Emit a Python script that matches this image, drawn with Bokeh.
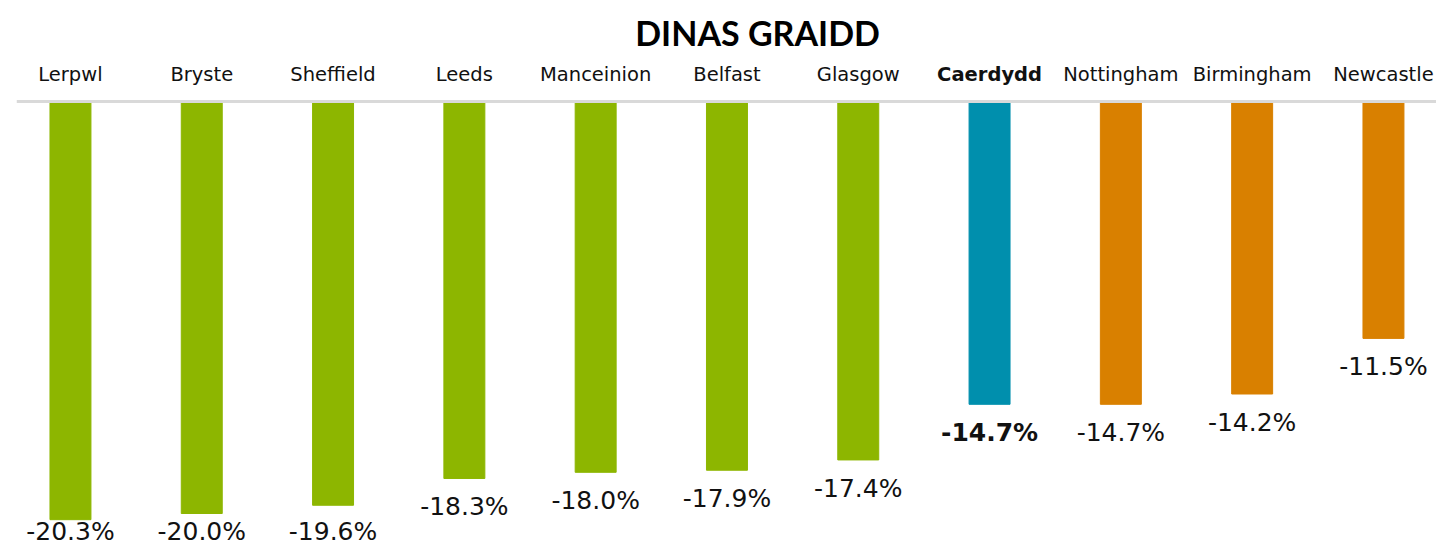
from bokeh.plotting import figure
from bokeh.models import ColumnDataSource, Range1d, Span
from bokeh.core.properties import value
from bokeh.embed import file_html
from bokeh.resources import INLINE

# ---- data ----
cities = ["Lerpwl", "Bryste", "Sheffield", "Leeds", "Manceinion", "Belfast",
          "Glasgow", "Caerdydd", "Nottingham", "Birmingham", "Newcastle"]
changes = [-20.3, -20.0, -19.6, -18.3, -18.0, -17.9, -17.4, -14.7, -14.7, -14.2, -11.5]
groups = ["core", "core", "core", "core", "core", "core", "core",
          "wales", "other", "other", "other"]
title_text = "DINAS GRAIDD"

palette = {"core": "#8DB600", "wales": "#008FAD", "other": "#D98000"}

idx = list(range(len(cities)))
colors = [palette[g] for g in groups]
weights = ["bold" if g == "wales" else "normal" for g in groups]
labels = [f"{v:.1f}%" for v in changes]
# value labels are kept inside the chart area (clamped near the bottom edge)
label_floor = -19.5
label_y = [max(v, label_floor) for v in changes]

src = ColumnDataSource(dict(x=idx, top=[0] * len(idx), bottom=changes, color=colors,
                            city=cities, label=labels, weight=weights, label_y=label_y,
                            cat_y=[1.31] * len(idx)))

W, H = 1436, 547
p = figure(width=W, height=H, output_backend="svg", toolbar_location=None,
           x_range=Range1d(-0.411, 10.404), y_range=Range1d(-21.65, 4.90),
           min_border_left=16, min_border_right=0, min_border_top=0, min_border_bottom=0)
p.axis.visible = False
p.grid.visible = False
p.outline_line_color = None
p.background_fill_color = "white"

p.vbar(x="x", top="top", bottom="bottom", width=0.312, color="color", source=src)

p.add_layout(Span(location=0, dimension="width", line_color="#D9D9D9", line_width=3))

p.text(x="x", y="cat_y", text="city", text_font=value("DejaVu Sans"), text_font_size="19.5px",
       text_font_style="weight", text_align="center", text_baseline="middle",
       text_color="#111111", source=src)

p.text(x="x", y="label_y", text="label", text_font=value("DejaVu Sans"), text_font_size="25px",
       text_font_style="weight", text_align="center", text_baseline="top", y_offset=14,
       text_color="#111111", source=src)

p.text(x=[5.233], y=[3.35], text=[title_text], text_font=value("Lato"), text_font_size="34px",
       text_font_style="bold", text_align="center", text_baseline="middle", text_color="#000000")

open("out.html", "w").write(file_html(p, INLINE))
